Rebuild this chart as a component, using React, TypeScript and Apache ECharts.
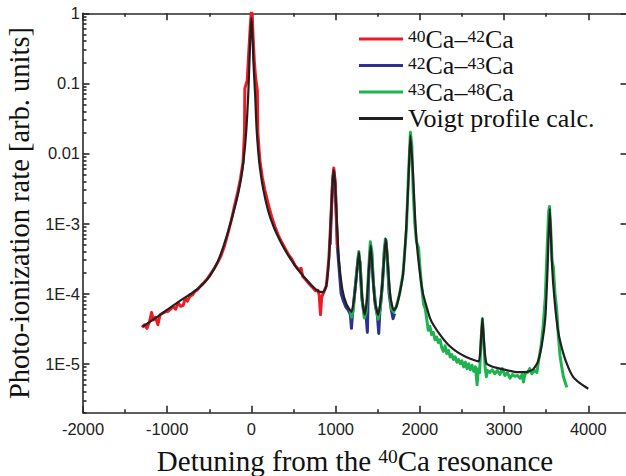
import React, { useEffect, useRef } from 'react';
import * as echarts from 'echarts';

// ---------- axis ticks ----------
const xMajorTicks = [-2000, -1000, 0, 1000, 2000, 3000, 4000];
const xMinorTicks = [-1500, -500, 500, 1500, 2500, 3500];
const yMajorTicks = [1e-5, 1e-4, 1e-3, 0.01, 0.1, 1];
const yMajorLabels = ['1E-5', '1E-4', '1E-3', '0.01', '0.1', '1'];
const yMinorTicks: number[] = [];
for (let k = -6; k <= -1; k++) {
  for (let m = 2; m <= 9; m++) yMinorTicks.push(m * Math.pow(10, k));
}

// ---------- series names ----------
const seriesNames = ['40Ca–42Ca', '42Ca–43Ca', '43Ca–48Ca', 'Voigt profile calc.'];
const legendRich = [
  '{s|40}{t|Ca–}{s|42}{t|Ca}',
  '{s|42}{t|Ca–}{s|43}{t|Ca}',
  '{s|43}{t|Ca–}{s|48}{t|Ca}',
  '{t|Voigt profile calc.}',
];

// ---------- data (detuning, rate) ----------
const red40_42: [number, number][] = [
  [-1300, 3.3e-5], [-1270, 3.6e-5], [-1240, 3.2e-5], [-1210, 4.0e-5], [-1185, 5.4e-5], [-1165, 4.2e-5],
  [-1140, 4.6e-5], [-1110, 3.6e-5], [-1085, 5.0e-5], [-1050, 5.3e-5], [-1020, 5.5e-5], [-990, 5.6e-5],
  [-960, 6.0e-5], [-930, 6.5e-5], [-900, 6.0e-5], [-870, 7.4e-5], [-840, 6.6e-5], [-810, 6.8e-5],
  [-785, 8.6e-5], [-760, 7.8e-5], [-730, 9.2e-5], [-700, 9.6e-5], [-670, 1.08e-4], [-640, 1.14e-4],
  [-600, 1.3e-4], [-560, 1.45e-4], [-520, 1.65e-4], [-480, 1.95e-4], [-440, 2.3e-4], [-400, 2.8e-4],
  [-360, 3.5e-4], [-320, 4.8e-4], [-280, 7.2e-4], [-240, 1.1e-3], [-200, 1.8e-3], [-160, 2.9e-3],
  [-130, 4.4e-3], [-100, 7.5e-3], [-82, 0.02], [-78, 0.085], [-50, 0.11], [-30, 0.3], [-12, 0.7],
  [0, 1.08], [10, 0.95], [20, 0.45], [35, 0.2], [50, 0.12], [70, 0.08], [76, 0.02], [100, 8.0e-3],
  [130, 4.5e-3], [160, 3.0e-3], [200, 1.9e-3], [240, 1.25e-3], [280, 9.0e-4], [320, 6.8e-4],
  [360, 5.4e-4], [400, 4.4e-4], [440, 3.6e-4], [480, 3.1e-4], [520, 2.5e-4], [560, 2.2e-4],
  [590, 2.3e-4], [610, 1.75e-4], [640, 1.6e-4], [680, 1.4e-4], [720, 1.25e-4], [760, 1.1e-4],
  [790, 1.12e-4], [805, 9.5e-5], [820, 5.0e-5], [835, 9.0e-5], [860, 1.05e-4], [890, 1.3e-4],
  [920, 3.2e-4], [945, 1.3e-3], [965, 4.5e-3], [978, 6.2e-3], [995, 4.0e-3], [1010, 1.2e-3], [1020, 4.5e-4],
];

const blue42_43: [number, number][] = [
  [935, 5.0e-4], [950, 1.5e-3], [965, 4.0e-3], [980, 5.5e-3], [995, 3.5e-3], [1010, 1.1e-3],
  [1025, 4.0e-4], [1045, 2.0e-4], [1065, 1.0e-4], [1090, 8.0e-5], [1120, 6.5e-5], [1150, 5.8e-5],
  [1175, 5.0e-5], [1188, 3.2e-5], [1200, 5.0e-5], [1225, 1.0e-4], [1250, 2.0e-4], [1272, 3.6e-4],
  [1290, 2.8e-4], [1310, 9.0e-5], [1335, 5.5e-5], [1360, 5.0e-5], [1377, 2.8e-5], [1390, 1.5e-4],
  [1410, 4.0e-4], [1425, 4.2e-4], [1445, 1.6e-4], [1470, 7.0e-5], [1495, 5.0e-5], [1512, 2.7e-5],
  [1525, 5.5e-5], [1555, 1.3e-4], [1580, 4.5e-4], [1598, 5.8e-4], [1615, 3.0e-4], [1635, 1.0e-4],
  [1660, 6.0e-5], [1682, 4.4e-5], [1700, 5.2e-5],
];

const green43_48: [number, number][] = [
  [1170, 6.0e-5], [1190, 4.6e-5], [1210, 6.0e-5], [1230, 1.1e-4], [1255, 2.3e-4], [1275, 4.0e-4],
  [1295, 2.2e-4], [1315, 8.0e-5], [1340, 4.5e-5], [1365, 5.5e-5], [1390, 2.0e-4], [1412, 5.5e-4],
  [1430, 4.0e-4], [1450, 1.3e-4], [1480, 6.0e-5], [1505, 4.3e-5], [1530, 6.0e-5], [1560, 1.8e-4],
  [1590, 6.0e-4], [1610, 4.0e-4], [1635, 1.2e-4], [1665, 6.0e-5], [1690, 5.5e-5], [1720, 6.5e-5],
  [1760, 1.0e-4], [1800, 1.9e-4], [1840, 8.0e-4], [1865, 5.0e-3], [1888, 0.02], [1905, 0.013],
  [1920, 3.0e-3], [1940, 1.0e-3], [1960, 5.5e-4], [1985, 4.5e-4], [2000, 2.5e-4], [2020, 1.3e-4],
  [2045, 7.0e-5], [2065, 6.0e-5], [2080, 4.5e-5], [2100, 3.0e-5], [2120, 3.4e-5], [2140, 2.6e-5],
  [2160, 2.8e-5], [2180, 2.2e-5], [2200, 2.4e-5], [2220, 2.0e-5], [2240, 2.2e-5], [2260, 1.7e-5],
  [2280, 1.5e-5], [2300, 1.8e-5], [2320, 1.4e-5], [2340, 1.55e-5], [2360, 1.25e-5], [2380, 1.35e-5],
  [2400, 1.15e-5], [2420, 1.25e-5], [2440, 1.05e-5], [2460, 1.15e-5], [2480, 1.0e-5], [2500, 1.1e-5],
  [2520, 9.0e-6], [2540, 1.05e-5], [2560, 8.5e-6], [2580, 1.0e-5], [2600, 8.2e-6], [2620, 9.5e-6],
  [2640, 7.8e-6], [2660, 9.0e-6], [2680, 5.0e-6], [2695, 8.5e-6], [2710, 7.5e-6], [2725, 2.0e-5],
  [2743, 4.4e-5], [2760, 2.0e-5], [2775, 9.0e-6], [2790, 6.5e-6], [2805, 8.0e-6], [2830, 7.5e-6],
  [2860, 8.2e-6], [2890, 7.2e-6], [2920, 8.0e-6], [2950, 7.0e-6], [2980, 8.5e-6], [3010, 6.8e-6],
  [3040, 7.5e-6], [3070, 6.2e-6], [3100, 7.0e-6], [3130, 6.6e-6], [3160, 6.8e-6], [3190, 6.2e-6],
  [3215, 7.0e-6], [3230, 5.5e-6], [3250, 7.2e-6], [3280, 7.5e-6], [3305, 8.5e-6], [3330, 7.2e-6],
  [3360, 8.0e-6], [3390, 7.5e-6], [3410, 1.1e-5], [3440, 1.8e-5], [3465, 3.5e-5], [3490, 9.0e-5],
  [3510, 4.0e-4], [3530, 1.5e-3], [3540, 1.75e-3], [3555, 8.0e-4], [3570, 3.0e-4], [3585, 2.4e-4],
  [3605, 1.0e-4], [3625, 6.0e-5], [3645, 2.5e-5], [3665, 1.3e-5], [3685, 9.0e-6], [3705, 6.5e-6],
  [3725, 5.5e-6], [3745, 4.6e-6],
];

const voigtCalc: [number, number][] = [
  [-1290, 3.4e-5], [-1150, 4.4e-5], [-1000, 5.9e-5], [-850, 7.9e-5], [-700, 1.03e-4], [-600, 1.28e-4],
  [-500, 1.75e-4], [-400, 2.85e-4], [-300, 6.2e-4], [-220, 1.35e-3], [-160, 2.6e-3], [-120, 4.6e-3],
  [-90, 8.5e-3], [-60, 0.022], [-40, 0.06], [-25, 0.18], [-12, 0.48], [0, 0.86], [12, 0.5],
  [25, 0.19], [45, 0.065], [60, 0.024], [80, 0.011], [100, 6.4e-3], [140, 3.1e-3], [200, 1.5e-3],
  [270, 8.6e-4], [340, 5.7e-4], [420, 3.8e-4], [500, 2.7e-4], [580, 2.0e-4], [660, 1.55e-4],
  [740, 1.22e-4], [800, 1.07e-4], [850, 1.05e-4], [890, 1.3e-4], [920, 3.0e-4], [945, 1.2e-3],
  [965, 4.0e-3], [978, 5.8e-3], [995, 3.5e-3], [1015, 1.0e-3], [1040, 3.0e-4], [1080, 1.15e-4],
  [1130, 7.0e-5], [1190, 5.5e-5], [1228, 1.05e-4], [1255, 2.2e-4], [1278, 3.9e-4], [1300, 1.6e-4],
  [1320, 7.5e-5], [1346, 5.0e-5], [1375, 9.0e-5], [1395, 2.2e-4], [1417, 4.9e-4], [1440, 2.0e-4],
  [1465, 8.0e-5], [1504, 5.0e-5], [1540, 9.0e-5], [1570, 2.5e-4], [1595, 6.1e-4], [1620, 2.6e-4],
  [1650, 9.0e-5], [1690, 5.8e-5], [1722, 6.5e-5], [1760, 1.0e-4], [1801, 1.9e-4], [1841, 1.0e-3],
  [1868, 5.2e-3], [1888, 0.0182], [1919, 5.2e-3], [1940, 1.5e-3], [1960, 5.8e-4], [2000, 2.0e-4],
  [2038, 1.0e-4], [2080, 6.5e-5], [2117, 4.6e-5], [2160, 3.6e-5], [2250, 2.5e-5], [2350, 1.8e-5],
  [2450, 1.45e-5], [2550, 1.25e-5], [2640, 1.13e-5], [2700, 1.08e-5], [2722, 1.8e-5], [2743, 4.4e-5],
  [2765, 1.8e-5], [2790, 1.02e-5], [2850, 9.2e-6], [2950, 8.5e-6], [3050, 8.0e-6], [3150, 7.6e-6],
  [3250, 7.6e-6], [3340, 8.2e-6], [3400, 1.05e-5], [3450, 1.9e-5], [3490, 4.5e-5], [3515, 2.0e-4],
  [3543, 1.64e-3], [3570, 2.5e-4], [3600, 8.0e-5], [3640, 3.0e-5], [3700, 1.45e-5], [3760, 9.0e-6],
  [3820, 6.5e-6], [3900, 5.3e-6], [4000, 4.4e-6],
];

const COLORS = ['#ed1c24', '#2e3192', '#1db34f', '#231f20'];
const SERIF = '"Liberation Serif", "Times New Roman", serif';
const SANS = '"Liberation Sans", Arial, sans-serif';
const AXIS_COLOR = '#2a2a2a';

export default function App() {
  const ref = useRef<HTMLDivElement>(null);

  useEffect(() => {
    if (!ref.current) return;
    const chart = echarts.init(ref.current, undefined, { renderer: 'svg' });

    const lineStyle = { color: AXIS_COLOR, width: 1.6 };
    const xBase = { type: 'value', min: -2000, max: 4460, splitLine: { show: false } };
    const yBase = { type: 'log', logBase: 10, min: 2e-6, max: 1, splitLine: { show: false } };

    const yFmt = (v: number) => {
      for (let i = 0; i < yMajorTicks.length; i++) {
        if (Math.abs(Math.log10(v) - Math.log10(yMajorTicks[i])) < 1e-6) return yMajorLabels[i];
      }
      return '';
    };

    const labelStyle = { fontFamily: SANS, fontSize: 16.5, color: '#222', lineHeight: 16 };

    const option: any = {
      animation: false,
      backgroundColor: '#ffffff',
      grid: { left: 83, right: -1, top: 13.3, bottom: 63.3, containLabel: false, outerBoundsMode: 'none' },
      legend: {
        orient: 'vertical',
        left: 359,
        top: 26,
        padding: 0,
        icon: 'rect',
        itemWidth: 44,
        itemHeight: 3,
        itemGap: 0.5,
        selectedMode: false,
        data: seriesNames,
        formatter: (name: string) => legendRich[seriesNames.indexOf(name)],
        textStyle: {
          fontFamily: SERIF,
          fontSize: 26,
          lineHeight: 24,
          color: '#111',
          rich: {
            t: { fontFamily: SERIF, fontSize: 26, lineHeight: 24, color: '#111' },
            s: { fontFamily: SERIF, fontSize: 17.5, lineHeight: 14, verticalAlign: 'top', color: '#111' },
          },
        },
      },
      xAxis: [
        {
          ...xBase,
          position: 'bottom',
          axisLine: { show: true, onZero: false, lineStyle },
          axisTick: { show: true, inside: true, length: 7, customValues: xMajorTicks, lineStyle },
          axisLabel: {
            show: true,
            customValues: xMajorTicks,
            formatter: (v: number) => String(v),
            margin: 8,
            ...labelStyle,
          },
          name: '{t|Detuning from the }{s|40}{t|Ca resonance}',
          nameLocation: 'middle',
          nameGap: 34,
          nameTextStyle: {
            fontFamily: SERIF,
            fontSize: 29,
            color: '#111',
            rich: {
              t: { fontFamily: SERIF, fontSize: 29, lineHeight: 28, color: '#111' },
              s: { fontFamily: SERIF, fontSize: 19.5, lineHeight: 16, verticalAlign: 'top', color: '#111' },
            },
          },
        },
        {
          ...xBase,
          position: 'bottom',
          axisLine: { show: false, onZero: false },
          axisTick: { show: true, inside: true, length: 3.5, customValues: xMinorTicks, lineStyle },
          axisLabel: { show: false },
        },
        {
          ...xBase,
          position: 'top',
          axisLine: { show: true, onZero: false, lineStyle },
          axisTick: { show: true, inside: true, length: 7, customValues: xMajorTicks, lineStyle },
          axisLabel: { show: false },
        },
        {
          ...xBase,
          position: 'top',
          axisLine: { show: false, onZero: false },
          axisTick: { show: true, inside: true, length: 3.5, customValues: xMinorTicks, lineStyle },
          axisLabel: { show: false },
        },
      ],
      yAxis: [
        {
          ...yBase,
          position: 'left',
          axisLine: { show: true, onZero: false, lineStyle },
          axisTick: { show: true, inside: true, length: 6.5, customValues: yMajorTicks, lineStyle },
          axisLabel: { show: true, customValues: yMajorTicks, formatter: yFmt, margin: 3, ...labelStyle },
          name: 'Photo-ionization rate [arb. units]',
          nameLocation: 'middle',
          nameGap: 45,
          nameRotate: 90,
          nameTextStyle: { fontFamily: SERIF, fontSize: 28.5, lineHeight: 28, color: '#111' },
        },
        {
          ...yBase,
          position: 'left',
          axisLine: { show: false, onZero: false },
          axisTick: { show: true, inside: true, length: 3.5, customValues: yMinorTicks, lineStyle },
          axisLabel: { show: false },
        },
        {
          ...yBase,
          position: 'right',
          axisLine: { show: true, onZero: false, lineStyle },
          axisTick: { show: true, inside: true, length: 6.5, customValues: yMajorTicks, lineStyle },
          axisLabel: { show: false },
        },
      ],
      series: [
        { name: seriesNames[0], data: red40_42, color: COLORS[0], z: 3, width: 3, smooth: false },
        { name: seriesNames[1], data: blue42_43, color: COLORS[1], z: 2, width: 3, smooth: false },
        { name: seriesNames[2], data: green43_48, color: COLORS[2], z: 4, width: 3, smooth: false },
        { name: seriesNames[3], data: voigtCalc, color: COLORS[3], z: 5, width: 2.2, smooth: 0.2 },
      ].map((s) => ({
        type: 'line',
        name: s.name,
        data: s.data,
        xAxisIndex: 0,
        yAxisIndex: 0,
        showSymbol: false,
        symbol: 'none',
        smooth: s.smooth,
        z: s.z,
        color: s.color,
        lineStyle: { color: s.color, width: s.width, join: 'round' },
        emphasis: { disabled: true },
      })),
    };

    chart.setOption(option);
    return () => chart.dispose();
  }, []);

  return (
    <div
      ref={ref}
      style={{ position: 'fixed', left: 0, top: 0, width: 626, height: 476, background: '#fff' }}
    />
  );
}
